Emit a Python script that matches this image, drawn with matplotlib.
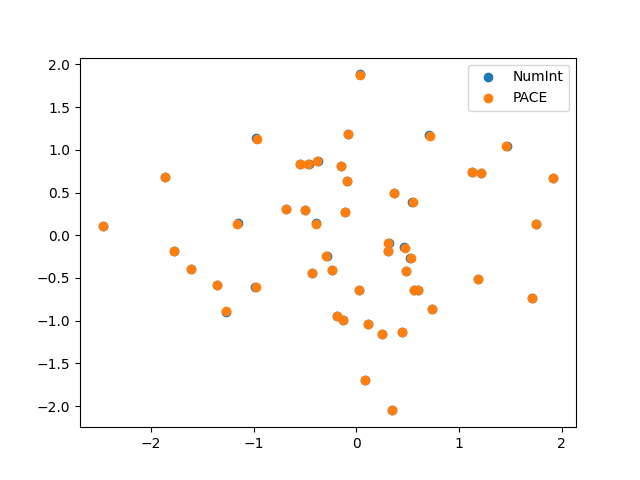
import matplotlib
matplotlib.use("Agg")
import matplotlib.pyplot as plt

# PACE estimates (orange, drawn on top)
pace_x = [-2.474, -1.87, -1.776, -1.61, -1.356, -1.268, -1.166, -0.97, -0.98, -0.69,
          -0.554, -0.50, -0.47, -0.43, -0.384, -0.39, -0.30, -0.24, -0.19, -0.153,
          -0.134, -0.114, -0.085, -0.09, 0.02, 0.036, 0.081, 0.117, 0.251, 0.306,
          0.306, 0.349, 0.365, 0.443, 0.47, 0.482, 0.53, 0.55, 0.56, 0.60,
          0.714, 0.736, 1.124, 1.186, 1.212, 1.46, 1.714, 1.753, 1.919]
pace_y = [0.114, 0.684, -0.188, -0.40, -0.58, -0.887, 0.137, 1.125, -0.60, 0.31,
          0.84, 0.29, 0.84, -0.44, 0.864, 0.137, -0.246, -0.41, -0.94, 0.805,
          -0.99, 0.27, 1.18, 0.64, -0.64, 1.876, -1.70, -1.04, -1.152, -0.086,
          -0.18, -2.05, 0.50, -1.133, -0.145, -0.42, -0.27, 0.385, -0.64, -0.64,
          1.16, -0.86, 0.735, -0.51, 0.727, 1.05, -0.74, 0.137, 0.665]

# NumInt reference values (blue, mostly hidden underneath)
numint_x = [-2.474, -1.87, -1.776, -1.61, -1.356, -1.268, -1.159, -0.977, -0.986, -0.69,
            -0.554, -0.50, -0.466, -0.43, -0.379, -0.397, -0.288, -0.24, -0.19, -0.153,
            -0.134, -0.114, -0.085, -0.09, 0.024, 0.031, 0.081, 0.110, 0.251, 0.313,
            0.306, 0.348, 0.365, 0.443, 0.463, 0.482, 0.523, 0.543, 0.56, 0.60,
            0.707, 0.736, 1.124, 1.186, 1.212, 1.463, 1.714, 1.753, 1.919]
numint_y = [0.114, 0.684, -0.188, -0.40, -0.58, -0.894, 0.141, 1.133, -0.60, 0.31,
            0.84, 0.29, 0.837, -0.44, 0.864, 0.145, -0.242, -0.41, -0.94, 0.805,
            -0.99, 0.27, 1.18, 0.64, -0.636, 1.883, -1.70, -1.035, -1.152, -0.088,
            -0.18, -2.047, 0.50, -1.137, -0.137, -0.415, -0.267, 0.393, -0.64, -0.64,
            1.168, -0.86, 0.735, -0.51, 0.727, 1.042, -0.74, 0.137, 0.665]

fig, ax = plt.subplots(figsize=(6.4, 4.8), dpi=100)
ax.scatter(numint_x, numint_y, label="NumInt")
ax.scatter(pace_x, pace_y, label="PACE")
ax.legend()

fig.savefig("out.png")
